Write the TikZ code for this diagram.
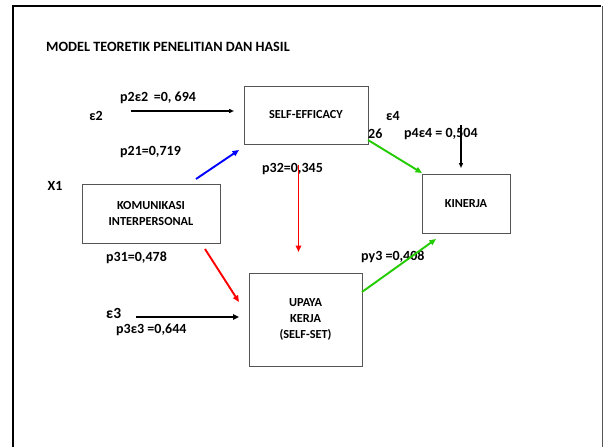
\documentclass[tikz,border=0pt]{standalone}
\usepackage{fontspec}
\setmainfont{Carlito}
\usetikzlibrary{arrows.meta}
\definecolor{boxgray}{HTML}{555555}
\definecolor{pathgreen}{HTML}{22CC00}
\tikzset{
  varbox/.style={draw=boxgray, line width=0.8pt, fill=white, inner sep=0pt,
    align=center, font=\bfseries\fontsize{12.3}{16.3}\selectfont},
  coef/.style={inner sep=0pt, font=\bfseries\fontsize{14}{16}\selectfont},
  patharrow/.style={line width=1.9pt, -{Triangle[length=6.5pt,width=5.5pt]}},
  errarrow/.style={line width=1.3pt, black, -{Triangle[length=5pt,width=4pt]}}
}
\begin{document}
\begin{tikzpicture}[x=1pt,y=-1pt]
\useasboundingbox (0,0) rectangle (603,447);
\fill[white] (0,0) rectangle (603,447);
% slide frame
\draw[boxgray, line width=1pt] (602,6) -- (602,450);
\draw[black, line width=2.6pt] (13,450) -- (13,6) -- (601,6);

% title
\node[anchor=west, inner sep=0pt, font=\bfseries\fontsize{14.2}{16}\selectfont] (title) at (46,47) {MODEL TEORETIK PENELITIAN DAN HASIL};

% variables
\node[varbox, minimum width=124pt, minimum height=58pt] (se) at (306,115) {SELF-EFFICACY};
\node[varbox, minimum width=138pt, minimum height=59pt] (ki) at (151,213.5) {KOMUNIKASI\\INTERPERSONAL};
\node[varbox, minimum width=88pt, minimum height=59pt] (kn) at (466,203.5) {KINERJA};
\node[varbox, minimum width=113pt, minimum height=93pt] (up) at (305.5,319.5) {UPAYA\\KERJA\\(SELF-SET)};

% labels
\node[coef] (e2) at (96,116) {ε2};
\node[coef, anchor=west] (pe2) at (120,98) {p2ε2 \,=0, 694};
\node[coef, anchor=west] (p21) at (120,152) {p21=0,719};
\node[coef] (x1) at (55,186) {X1};
\node[coef, anchor=west] (p32) at (262,169) {p32=0,345};
\node[coef, anchor=west] (p31) at (106,258) {p31=0,478};
\node[coef, anchor=west, font=\bfseries\fontsize{15.5}{17}\selectfont] (e3) at (106,313) {ε3};
\node[coef, anchor=west] (pe3) at (116,330) {p3ε3 =0,644};
\node[coef, anchor=west] (py3) at (361,257) {py3 =0,408};
\node[coef, anchor=west] (p26) at (368,134) {26};
\node[coef, anchor=west] (e4) at (386,116) {ε4};
\node[coef, anchor=west] (pe4) at (404,134) {p4ε4 = 0,504};

% connector end points
\coordinate (e2s) at (131,111);
\coordinate (e2t) at (234,111);
\coordinate (e3s) at (136,317);
\coordinate (e3t) at (239,317);
\coordinate (e4s) at (461,125);
\coordinate (e4t) at (461,168);
\coordinate (kis) at (196,179);
\coordinate (set) at (239,150);
\coordinate (ses) at (298.5,165);
\coordinate (upt) at (298.5,252);
\coordinate (kis2) at (205,249);
\coordinate (upt2) at (239,302);
\coordinate (ups) at (362,292);
\coordinate (knt) at (436,239);
\coordinate (ses2) at (368,140);
\coordinate (knt2) at (422,173);

% error terms
\draw[errarrow] (e2s) -- (e2t);
\draw[errarrow, line width=2.2pt, -{Triangle[length=6pt,width=5.5pt]}] (e3s) -- (e3t);
\draw[errarrow] (e4s) -- (e4t);

% paths
\draw[patharrow, blue] (kis) -- (set);
\draw[patharrow, red] (ses) -- (upt);
\draw[patharrow, red] (kis2) -- (upt2);
\draw[patharrow, pathgreen] (ups) -- (knt);
\draw[patharrow, pathgreen] (ses2) -- (knt2);
\end{tikzpicture}
\end{document}
